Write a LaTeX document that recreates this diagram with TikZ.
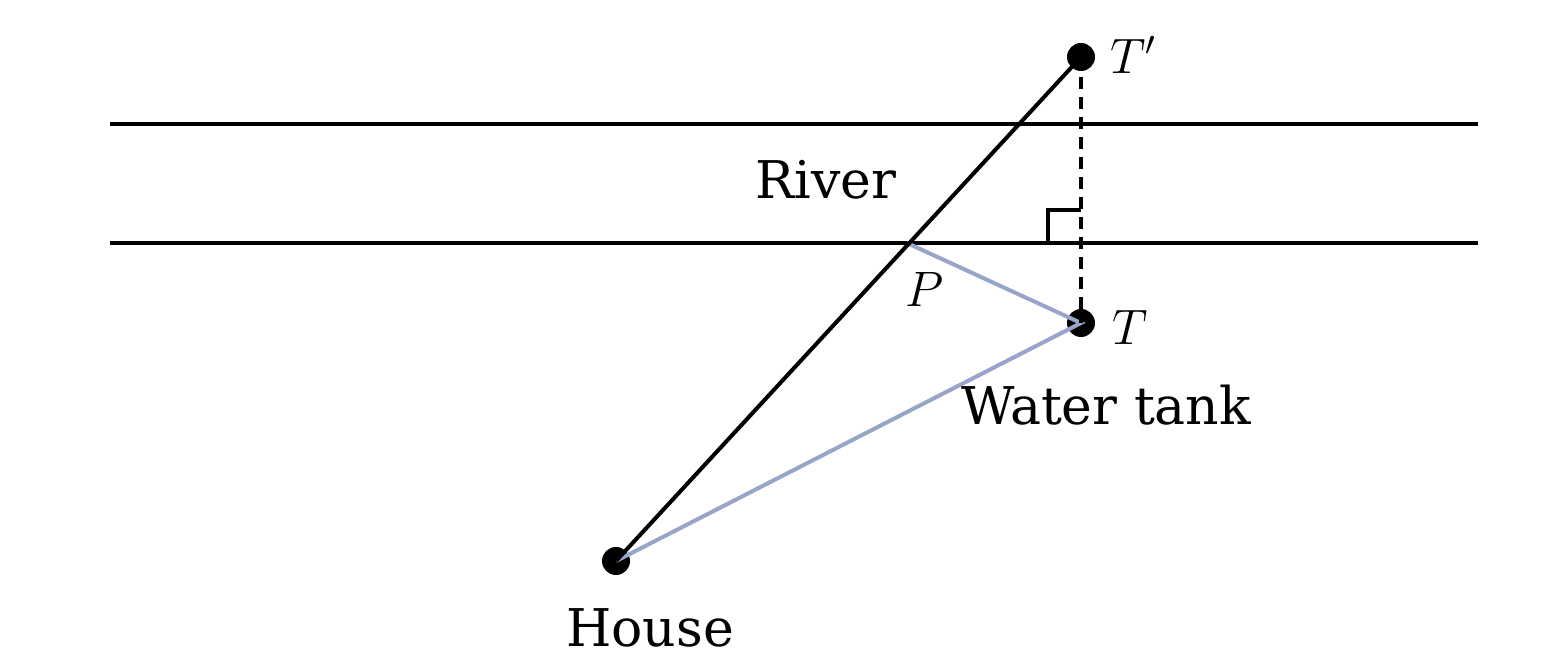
\documentclass[tikz,border=0pt]{standalone}
\usepackage{fontspec}
\setmainfont{DejaVu Serif}
\definecolor{pathblue}{RGB}{150,165,200}
\begin{document}
\begin{tikzpicture}[x=0.5pt,y=-0.5pt,
  lbl/.style={font=\fontsize{26}{30}\selectfont},
  dot/.style={circle,fill=black,inner sep=0pt,minimum size=14pt},
  pt/.style={inner sep=0pt,minimum size=0pt}]
\useasboundingbox (0,0) rectangle (1560,672);
\node[dot] (Tp) at (1081,57) {};
\node[dot] (T) at (1081,323) {};
\node[dot] (H) at (616,561) {};
\node[pt] (P) at (907,243) {};
\coordinate (A1) at (110,124); \coordinate (A2) at (1478,124);
\coordinate (B1) at (110,243); \coordinate (B2) at (1478,243);
\coordinate (F) at (1081,243);
\draw[line width=2pt] (A1) -- (A2);
\draw[line width=2pt] (B1) -- (B2);
\draw[line width=2pt,pathblue] (H.center) -- (T.center) -- (P.center);
\draw[line width=2pt] (H.center) -- (Tp.center);
\draw[line width=1.6pt,dash pattern=on 6pt off 4pt] (Tp.center) -- (T.center);
\draw[line width=1.6pt] (1048,243) -- (1048,210) -- (1081,210);
\node[lbl] (river) at (826,180) {River};
\node[lbl] (pl) at (925,290) {$P$};
\node[lbl,anchor=west] (tl) at (1105,328) {$T$};
\node[lbl,anchor=west] (tpl) at (1103,55) {$T'$};
\node[lbl] (wt) at (1106,405) {Water tank};
\node[lbl] (hl) at (650,628) {House};
\end{tikzpicture}
\end{document}
